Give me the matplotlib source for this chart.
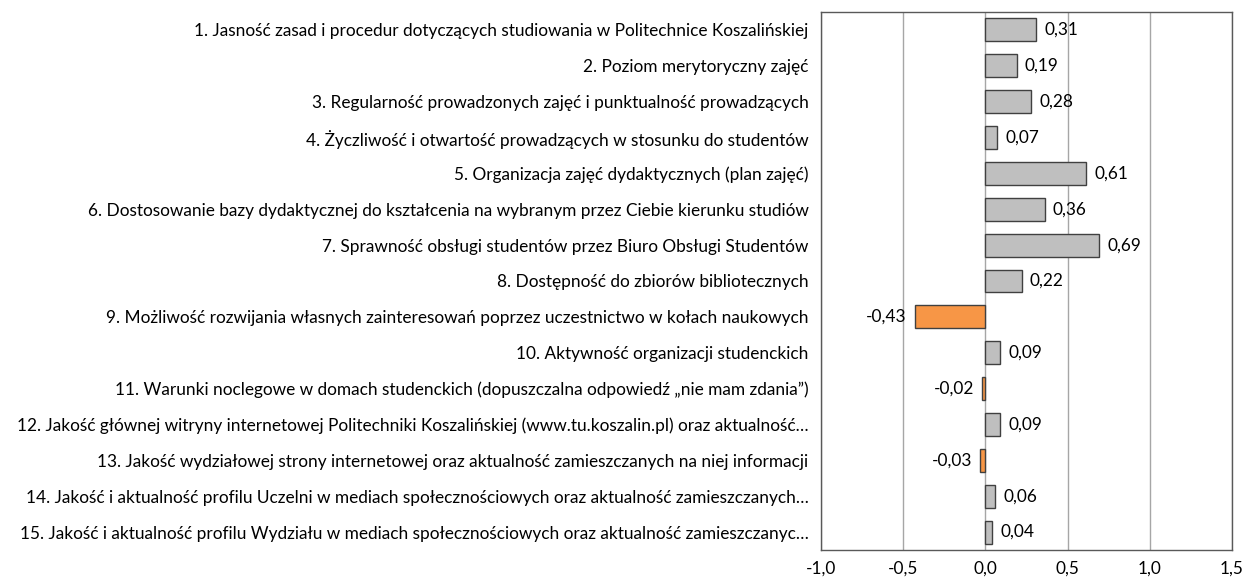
import matplotlib
matplotlib.use("Agg")
import matplotlib.pyplot as plt

etykiety = [
    "1. Jasność zasad i procedur dotyczących studiowania w Politechnice Koszalińskiej",
    "2. Poziom merytoryczny zajęć",
    "3. Regularność prowadzonych zajęć i punktualność prowadzących",
    "4. Życzliwość i otwartość prowadzących w stosunku do studentów",
    "5. Organizacja zajęć dydaktycznych (plan zajęć)",
    "6. Dostosowanie bazy dydaktycznej do kształcenia na wybranym przez Ciebie kierunku studiów",
    "7. Sprawność obsługi studentów przez Biuro Obsługi Studentów",
    "8. Dostępność do zbiorów bibliotecznych",
    "9. Możliwość rozwijania własnych zainteresowań poprzez uczestnictwo w kołach naukowych",
    "10. Aktywność organizacji studenckich",
    "11. Warunki noclegowe w domach studenckich (dopuszczalna odpowiedź „nie mam zdania”)",
    "12. Jakość głównej witryny internetowej Politechniki Koszalińskiej (www.tu.koszalin.pl) oraz aktualność…",
    "13. Jakość wydziałowej strony internetowej oraz aktualność zamieszczanych na niej informacji",
    "14. Jakość i aktualność profilu Uczelni w mediach społecznościowych oraz aktualność zamieszczanych…",
    "15. Jakość i aktualność profilu Wydziału w mediach społecznościowych oraz aktualność zamieszczanyc…",
]
wartosci = [0.31, 0.19, 0.28, 0.07, 0.61, 0.36, 0.69, 0.22, -0.43, 0.09, -0.02, 0.09, -0.03, 0.06, 0.04]
xticks = [-1.0, -0.5, 0.0, 0.5, 1.0, 1.5]

plt.rcParams['font.family'] = ['Lato', 'DejaVu Sans']
rozmiar = 12.4

fig = plt.figure(figsize=(12.47, 5.84), dpi=100)
ax = fig.add_axes([821 / 1247, 34 / 584, 411 / 1247, 538 / 584])

y = list(range(len(wartosci)))
kolory = ["#F79646" if v < 0 else "#BFBFBF" for v in wartosci]
ax.barh(y, wartosci, height=0.64, color=kolory, edgecolor="#404040", linewidth=1.0, zorder=3)

for yi, v in zip(y, wartosci):
    txt = f"{v:.2f}".replace(".", ",")
    if v < 0:
        ax.annotate(txt, (v, yi), xytext=(-6, 0), textcoords="offset points",
                    ha="right", va="center", fontsize=rozmiar, color="#000000")
    else:
        ax.annotate(txt, (v, yi), xytext=(6, 0), textcoords="offset points",
                    ha="left", va="center", fontsize=rozmiar, color="#000000")

ax.set_xlim(-1.0, 1.5)
ax.set_ylim(14.5, -0.5)
ax.set_xticks(xticks)
ax.set_xticklabels([f"{t:.1f}".replace(".", ",") for t in xticks], fontsize=rozmiar)
ax.set_yticks(y)
ax.set_yticklabels(etykiety, fontsize=rozmiar)
ax.tick_params(length=0)
ax.tick_params(axis="x", pad=8)
ax.tick_params(axis="y", pad=9)
ax.xaxis.grid(True, color="#A6A6A6", linewidth=1.0, zorder=0)
for s in ax.spines.values():
    s.set_color("#595959")
    s.set_linewidth(1.0)

fig.savefig("out.png", dpi=100)
